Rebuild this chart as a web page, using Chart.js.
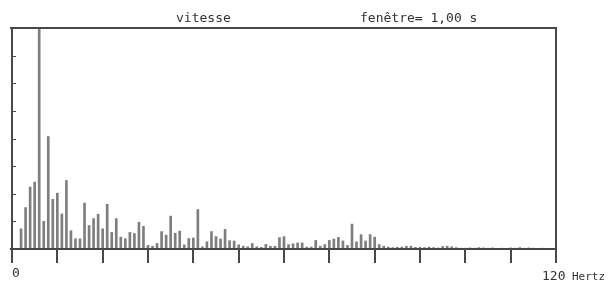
<!DOCTYPE html>
<html>
<head>
<meta charset="utf-8">
<script src="https://cdn.jsdelivr.net/npm/chart.js@4/dist/chart.umd.min.js"></script>
<style>
  html, body { margin: 0; padding: 0; background: #fff; }
  #wrap { width: 615px; height: 284px; }
</style>
</head>
<body>
<div id="wrap"><canvas id="spectre" width="615" height="284"></canvas></div>
<script>
const ctx = document.getElementById('spectre');

// frequences (Hz), resolution 1 Hz
const freqs = [];
for (let f = 2; f <= 118; f++) freqs.push(f);

const amplitudes = [
  0.73, 1.5, 2.24, 2.42, 10, 1.0, 4.07, 1.8, 2.02,          // 2-10
  1.27, 2.48, 0.66, 0.37, 0.37, 1.66, 0.85, 1.1, 1.26, 0.73, // 11-20
  1.62, 0.6, 1.1, 0.43, 0.37, 0.6, 0.56, 0.97, 0.82, 0.13,   // 21-30
  0.1, 0.2, 0.63, 0.5, 1.19, 0.57, 0.65, 0.15, 0.38, 0.4,    // 31-40
  1.43, 0.08, 0.26, 0.63, 0.45, 0.36, 0.71, 0.3, 0.29, 0.15, // 41-50
  0.1, 0.08, 0.2, 0.08, 0.06, 0.17, 0.1, 0.1, 0.41, 0.45,    // 51-60
  0.16, 0.19, 0.22, 0.22, 0.07, 0.07, 0.31, 0.1, 0.16, 0.31, // 61-70
  0.36, 0.42, 0.29, 0.13, 0.9, 0.26, 0.52, 0.29, 0.52, 0.43, // 71-80
  0.16, 0.1, 0.07, 0.05, 0.06, 0.07, 0.1, 0.1, 0.06, 0.06,   // 81-90
  0.05, 0.07, 0.05, 0.04, 0.09, 0.1, 0.08, 0.05, 0.03, 0.03, // 91-100
  0.04, 0.03, 0.05, 0.04, 0.03, 0.04, 0.02, 0.03, 0.02, 0.04, // 101-110
  0.03, 0.05, 0.03, 0.04, 0.03, 0.02, 0.03, 0.02              // 111-118
];

const xTicks = [0, 10, 20, 30, 40, 50, 60, 70, 80, 90, 100, 110, 120];
const yTicks = [1, 2, 3, 4, 5, 6, 7];

const titre = 'vitesse';
const fenetre = 'fenêtre= 1,00 s';

const points = freqs.map((f, i) => ({ x: f, y: amplitudes[i] }));

const LINE = '#484848';

// cadre, graduations et textes (rectangles pleins, plus nets)
const cadre = {
  id: 'cadre',
  afterDraw(chart) {
    const c = chart.ctx;
    const a = chart.chartArea;
    const xs = chart.scales.x, ys = chart.scales.y;
    const bas = Math.round(ys.getPixelForValue(0));
    const gauche = Math.round(xs.getPixelForValue(0));
    const droite = Math.round(xs.getPixelForValue(120));
    const haut = Math.round(a.top);
    c.save();
    c.fillStyle = LINE;
    c.fillRect(gauche - 2, haut - 1, droite - gauche + 3, 2);   // haut
    c.fillRect(gauche - 2, bas - 1, droite - gauche + 3, 2);    // axe x
    c.fillRect(gauche - 1, haut - 1, 2, bas - haut + 1);        // gauche
    c.fillRect(droite - 1, haut - 1, 2, bas - haut + 1);        // droite
    xTicks.forEach(v => {
      const x = Math.round(xs.getPixelForValue(v));
      c.fillRect(x - 1, bas, 2, 14);
    });
    yTicks.forEach(v => {
      const y = Math.round(ys.getPixelForValue(v));
      c.fillRect(gauche, y, 4, 1);
    });

    c.fillStyle = '#333';
    c.font = '13px "DejaVu Sans Mono"';
    c.textBaseline = 'middle';
    c.textAlign = 'left';
    c.fillText(titre, 176, 19);
    c.fillText(fenetre, 360, 19);
    c.fillText('0', gauche, 274);
    c.fillText('120', droite - 14, 277);
    c.font = '11px "DejaVu Sans Mono"';
    c.fillText('Hertz', droite + 16, 277);
    c.restore();
  }
};

new Chart(ctx, {
  type: 'bar',
  data: {
    datasets: [{
      data: points,
      backgroundColor: '#7e7e7e',
      borderWidth: 0,
      barThickness: 2
    }]
  },
  options: {
    responsive: false,
    animation: false,
    layout: { padding: { left: 12, right: 59, top: 28, bottom: 35 } },
    plugins: { legend: { display: false }, tooltip: { enabled: false } },
    scales: {
      x: {
        type: 'linear',
        display: false,
        min: 0,
        max: 120,
        offset: false
      },
      y: {
        display: false,
        min: 0,
        max: 8
      }
    }
  },
  plugins: [cadre]
});
</script>
</body>
</html>
